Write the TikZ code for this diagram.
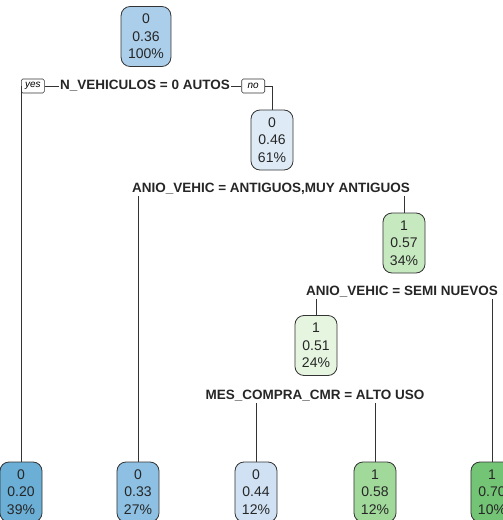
\documentclass[tikz,border=0pt]{standalone}
\usepackage{fontspec}
\setmainfont{Liberation Sans}
\usepackage{xcolor}

\definecolor{rootblue}{RGB}{171,206,234}
\definecolor{paleblue}{RGB}{222,235,247}
\definecolor{lightblue}{RGB}{207,225,243}
\definecolor{midblue}{RGB}{141,192,226}
\definecolor{deepblue}{RGB}{107,174,214}
\definecolor{palegreen}{RGB}{229,245,224}
\definecolor{lightgreen}{RGB}{199,233,192}
\definecolor{midgreen}{RGB}{161,217,155}
\definecolor{deepgreen}{RGB}{116,196,118}

\begin{document}
\begin{tikzpicture}[
    x=1pt, y=-1pt,
    leaf/.style={rectangle, draw=black!80, line width=0.8pt, rounded corners=9pt, minimum width=42pt, minimum height=60pt, inner xsep=7pt, align=center, font=\fontsize{14}{17.5}\selectfont, text=black!85},
    split/.style={font=\fontsize{13.5}{16}\selectfont\bfseries, inner sep=1pt, text=black!85},
    yesno/.style={rectangle, draw=black!80, line width=0.6pt, rounded corners=1.5pt, fill=white, font=\fontsize{10}{12}\selectfont\itshape, inner xsep=2pt, inner ysep=1pt, minimum width=23pt, minimum height=14pt},
    edge/.style={draw=black!80, line width=0.9pt}
]
\clip (0,0) rectangle (503,520);
\useasboundingbox (0,0) rectangle (503,520);

% inner nodes
\node[leaf, fill=rootblue] (root) at (146,36.5) {0\\0.36\\100\%};
\node[leaf, fill=paleblue] (nodeB) at (272,140) {0\\0.46\\61\%};
\node[leaf, fill=lightgreen] (nodeC) at (404,243) {1\\0.57\\34\%};
\node[leaf, fill=palegreen] (nodeD) at (316,345.5) {1\\0.51\\24\%};

% leaves
\node[leaf, fill=deepblue] (leafA) at (21,492) {0\\0.20\\39\%};
\node[leaf, fill=midblue] (leafB) at (138,492) {0\\0.33\\27\%};
\node[leaf, fill=lightblue] (leafC) at (256,492) {0\\0.44\\12\%};
\node[leaf, fill=midgreen] (leafD) at (375,492) {1\\0.58\\12\%};
\node[leaf, fill=deepgreen] (leafE) at (492,492) {1\\0.70\\10\%};

% split labels
\node[split] (nveh) at (145,86) {N\_VEHICULOS = 0 AUTOS};
\node[yesno, anchor=west] (yes) at (21,86) {yes};
\node[yesno, anchor=east] (no) at (265,86) {no};
\node[split] (anioA) at (271,189) {ANIO\_VEHIC = ANTIGUOS,MUY ANTIGUOS};
\node[split] (anioB) at (402,292) {ANIO\_VEHIC = SEMI NUEVOS};
\node[split] (mescmr) at (315,396) {MES\_COMPRA\_CMR = ALTO USO};

% connectors
\draw[edge] (leafA.north) |- (yes.west);
\draw[edge] (yes) -- (nveh);
\draw[edge] (nveh) -- (no);
\draw[edge] (no.east) -| (nodeB.north);
\draw[edge] (leafB.north) -- (leafB.north |- anioA.south);
\draw[edge] (nodeC.north) -- (nodeC.north |- anioA.south);
\draw[edge] (nodeD.north) -- (nodeD.north |- anioB.south);
\draw[edge] (leafE.north) -- (leafE.north |- anioB.south);
\draw[edge] (leafC.north) -- (leafC.north |- mescmr.south);
\draw[edge] (leafD.north) -- (leafD.north |- mescmr.south);

\end{tikzpicture}
\end{document}
